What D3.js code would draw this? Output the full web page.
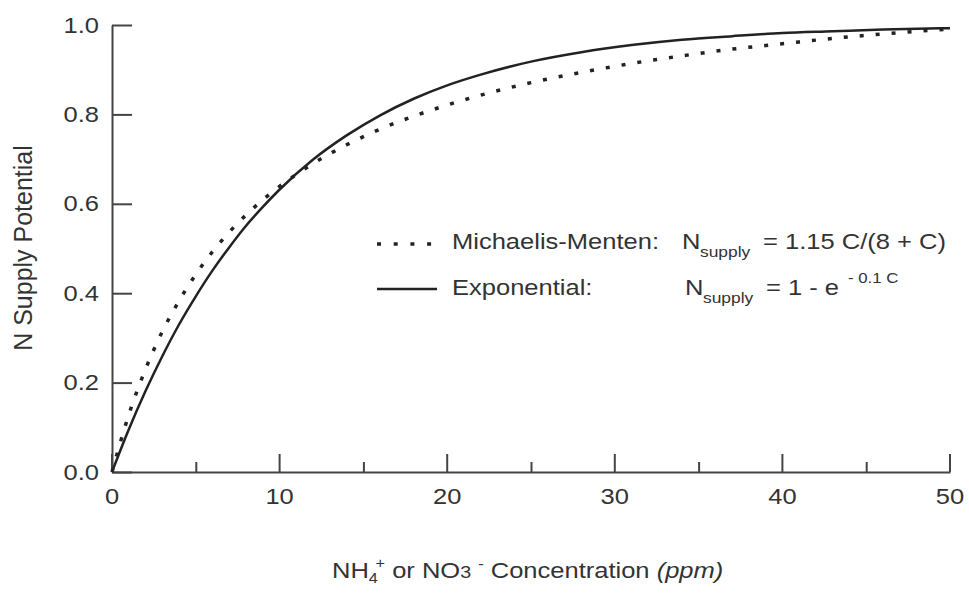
<!DOCTYPE html>
<html>
<head>
  <meta charset="UTF-8">
  <title>N Supply Potential</title>
  <script src="https://d3js.org/d3.v7.min.js"></script>
  <style>
    body { margin: 0; background: #fff; }
    text { font-family: "Liberation Sans", Arial, sans-serif; fill: #333; }
    .axis path, .axis line { stroke: #444; stroke-width: 2; fill: none; }
    .axis text { font-size: 22px; fill: #333; }
    .curve { fill: none; stroke: #222; }
  </style>
</head>
<body>
  <svg id="chart" width="969" height="593"></svg>

  <script>
    const conc = [0, 1, 2, 3, 4, 5, 6, 7, 8, 9, 10, 12, 14, 16, 18, 20, 22, 25, 28, 31, 34, 37, 40, 43, 46, 50];
    // Michaelis-Menten curve (dotted)
    const mmValues = [0, 0.128, 0.230, 0.314, 0.383, 0.442, 0.493, 0.537, 0.575, 0.609, 0.639, 0.690, 0.732, 0.767,
      0.796, 0.821, 0.843, 0.871, 0.894, 0.914, 0.931, 0.946, 0.958, 0.970, 0.980, 0.991];
    // Exponential curve (solid)
    const expValues = [0, 0.095, 0.181, 0.259, 0.330, 0.393, 0.451, 0.503, 0.551, 0.593, 0.632, 0.699, 0.753, 0.798,
      0.835, 0.865, 0.889, 0.918, 0.939, 0.955, 0.967, 0.975, 0.982, 0.986, 0.990, 0.993];

    const xTicks = [0, 10, 20, 30, 40, 50];
    const xMinorTicks = [5, 15, 25, 35, 45];
    const yTicks = [0, 0.2, 0.4, 0.6, 0.8, 1.0];

    const svg = d3.select("#chart");
    const sx = 1.16; // the source type is set wide

    const x = d3.scaleLinear().domain([0, 50]).range([112, 950]);
    const y = d3.scaleLinear().domain([0, 1]).range([472, 25]);

    // y axis, ticks point inward
    const yAxis = svg.append("g")
      .attr("class", "axis")
      .attr("transform", "translate(112,0)")
      .call(d3.axisLeft(y).tickValues(yTicks).tickFormat(d3.format(".1f"))
        .tickSizeInner(-20).tickSizeOuter(0).tickPadding(13));
    yAxis.selectAll("text")
      .attr("transform", function () { return "scale(" + sx + ",1)"; })
      .attr("x", -13 / sx);

    // x axis with major and minor ticks pointing up
    const xAxis = svg.append("g")
      .attr("class", "axis")
      .attr("transform", "translate(0,472)")
      .call(d3.axisBottom(x).tickValues(xTicks).tickFormat(d3.format("d"))
        .tickSizeInner(-18).tickSizeOuter(0).tickPadding(16));
    xAxis.selectAll(".tick text")
      .attr("transform", "scale(" + sx + ",1)");
    xAxis.selectAll(".tick")
      .attr("transform", d => "translate(" + x(d) + ",0)");

    svg.append("g")
      .attr("class", "axis")
      .attr("transform", "translate(0,472)")
      .call(d3.axisBottom(x).tickValues(xMinorTicks).tickFormat("")
        .tickSizeInner(-10).tickSizeOuter(0))
      .select(".domain").remove();

    // curves
    const mmData = conc.map((c, i) => [c, mmValues[i]]);
    const expData = conc.map((c, i) => [c, expValues[i]]);
    const line = d3.line()
      .x(d => x(d[0]))
      .y(d => y(d[1]))
      .curve(d3.curveMonotoneX);

    svg.append("path")
      .datum(expData)
      .attr("class", "curve")
      .attr("stroke-width", 2.5)
      .attr("d", line);

    svg.append("path")
      .datum(mmData)
      .attr("class", "curve")
      .attr("stroke-width", 3.5)
      .attr("stroke-dasharray", "4,12")
      .attr("d", line);

    // helper for wide horizontal text
    function label(px, py, str, size) {
      return svg.append("text")
        .attr("transform", "translate(" + px + "," + py + ") scale(" + sx + ",1)")
        .style("font-size", size + "px")
        .text(str);
    }

    // legend
    svg.append("line")
      .attr("x1", 377).attr("x2", 432).attr("y1", 244).attr("y2", 244)
      .attr("stroke", "#222").attr("stroke-width", 3.5)
      .attr("stroke-dasharray", "4,12.7");
    svg.append("line")
      .attr("x1", 377).attr("x2", 437).attr("y1", 289).attr("y2", 289)
      .attr("stroke", "#222").attr("stroke-width", 2.5);

    label(452, 249, "Michaelis-Menten:", 22);
    label(682, 249, "N", 22);
    label(700, 257, "supply", 15);
    label(763, 249, "= 1.15 C/(8 + C)", 22);

    label(452, 295, "Exponential:", 22);
    label(685, 295, "N", 22);
    label(703, 303, "supply", 15);
    label(766, 295, "= 1 - e", 22);
    label(848, 283, "- 0.1 C", 14.5);

    // x axis title
    const xt = label(332, 578, "", 22);
    xt.append("tspan").text("NH");
    xt.append("tspan").style("font-size", "14px").attr("dy", 5).text("4");
    xt.append("tspan").style("font-size", "14px").attr("dy", -15).attr("dx", -2).text("+");
    xt.append("tspan").attr("dy", 10).text(" or NO");
    xt.append("tspan").style("font-size", "17px").text("3");
    xt.append("tspan").text(" ");
    xt.append("tspan").style("font-size", "14px").attr("dy", -9).text("-");
    xt.append("tspan").attr("dy", 9).text(" Concentration ");
    xt.append("tspan").style("font-style", "italic").text("(ppm)");

    // y axis title
    svg.append("text")
      .attr("transform", "translate(32,248) rotate(-90)")
      .attr("text-anchor", "middle")
      .style("font-size", "25px")
      .text("N Supply Potential");
  </script>
</body>
</html>
